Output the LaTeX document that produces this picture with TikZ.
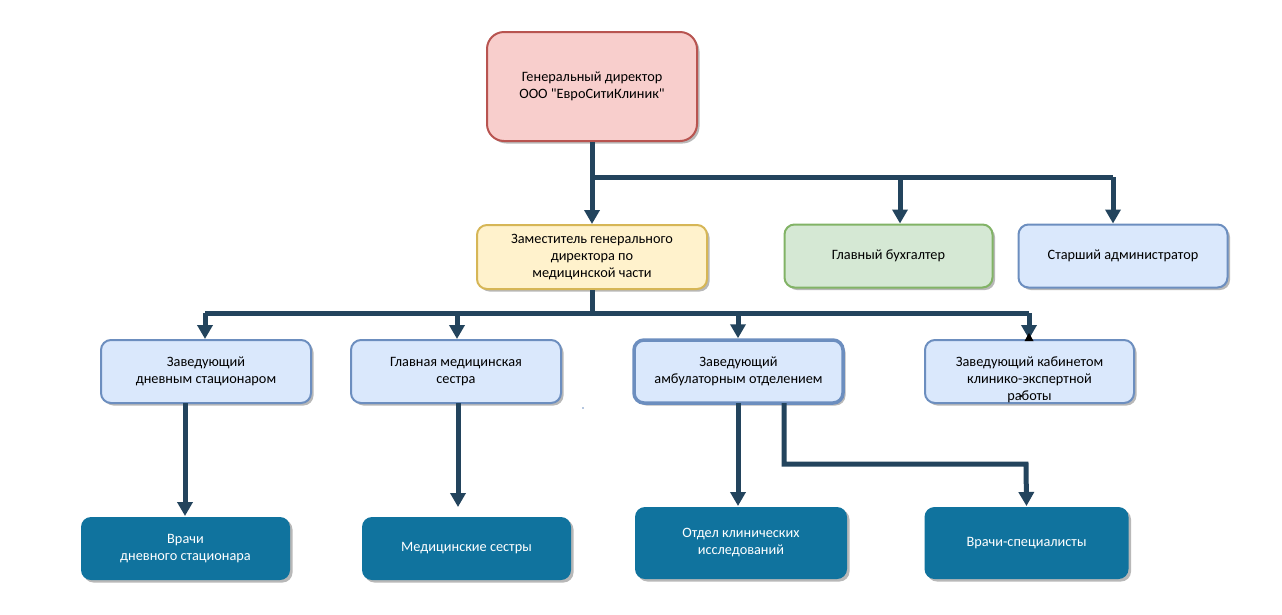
\documentclass[tikz,border=0pt]{standalone}
\usepackage{fontspec}
\setmainfont{Carlito}
\newfontfamily\qf{Carlito}
\usetikzlibrary{arrows.meta,shadows}
\definecolor{conncol}{HTML}{23445D}
\definecolor{redfill}{HTML}{F8CECC}\definecolor{redline}{HTML}{B85450}
\definecolor{yelfill}{HTML}{FFF2CC}\definecolor{yelline}{HTML}{D6B656}
\definecolor{grnfill}{HTML}{D5E8D4}\definecolor{grnline}{HTML}{82B366}
\definecolor{blufill}{HTML}{DAE8FC}\definecolor{bluline}{HTML}{6C8EBF}
\definecolor{tealfill}{HTML}{10739E}
\tikzset{
  shad/.style={drop shadow={shadow xshift=2.5pt,shadow yshift=-2.5pt,fill=black!55,opacity=0.5}},
  boxbase/.style={shad,rounded corners=10pt,line width=2pt,align=center,
    font=\fontsize{14.3}{17}\selectfont,inner sep=2pt},
  redbox/.style={boxbase,draw=redline,fill=redfill,rounded corners=17pt},
  yelbox/.style={boxbase,draw=yelline,fill=yelfill},
  grnbox/.style={boxbase,draw=grnline,fill=grnfill},
  blubox/.style={boxbase,draw=bluline,fill=blufill},
  tealbox/.style={boxbase,draw=none,fill=tealfill,text=white},
  conn/.style={draw=conncol,line width=5pt,-{Triangle[width=15pt,length=14pt]}},
  plain/.style={draw=conncol,line width=5pt},
  txt/.style={align=center,font=\fontsize{14.3}{17}\selectfont,inner sep=0pt}
}
\begin{document}
\begin{tikzpicture}[x=1pt,y=-1pt]
\useasboundingbox[fill=white] (0,0) rectangle (1282,614);
% boxes
\node[redbox,minimum width=210,minimum height=109] (gd) at (592,86.5) {Генеральный директор\\ООО {\qf"}ЕвроСитиКлиник{\qf"}};
\node[yelbox,minimum width=230,minimum height=64] (dep) at (592,257) {Заместитель генерального\\директора по\\медицинской части};
\node[grnbox,minimum width=208,minimum height=63] (buh) at (888.5,256) {Главный бухгалтер};
\node[blubox,minimum width=209,minimum height=63] (adm) at (1123,256) {Старший администратор};
\node[blubox,minimum width=210,minimum height=63] (zd) at (206,371.5) {Заведующий\\дневным стационаром};
\node[blubox,minimum width=210,minimum height=63] (gms) at (456,371.5) {Главная медицинская\\сестра};
\node[blubox,line width=3.5pt,minimum width=209,minimum height=63] (za) at (738.5,371.5) {Заведующий\\амбулаторным отделением};
\node[blubox,minimum width=209,minimum height=63] (zk) at (1029.5,371.5) {};
\node[txt] (zkt) at ([yshift=-8pt]zk.center) {Заведующий кабинетом\\клинико-экспертной\\работы};
\node[tealbox,minimum width=209,minimum height=63] (vd) at (185.5,548.5) {Врачи\\дневного стационара};
\node[tealbox,minimum width=209,minimum height=63] (ms) at (466.5,548.5) {Медицинские сестры};
\node[tealbox,minimum width=212,minimum height=72] (ok) at (741,543) {Отдел клинических\\исследований};
\node[tealbox,minimum width=204,minimum height=72] (vs) at (1026.5,543) {Врачи-специалисты};
% junction coordinates
\coordinate (j1) at (592,177);
\coordinate (b1) at (900,177);
\coordinate (a1) at (1113,177);
\coordinate (j2) at (592,313);
\coordinate (l2) at (205,313);
\coordinate (m2) at (457,313);
\coordinate (n2) at (738,313);
\coordinate (r2) at (1029,313);
\coordinate (zdo) at (185,403);
\coordinate (gmo) at (458,403);
\coordinate (gmi) at (458,507);
\coordinate (zal) at (738,403);
\coordinate (zar) at (784,403);
% connectors level 1
\draw[conn] (gd.south) -- (dep.north);
\draw[plain] (j1) -- (a1);
\draw[conn] (b1) -- (b1 |- buh.north);
\draw[conn] (a1) -- (a1 |- adm.north);
% level 2
\draw[plain] (dep.south) -- (j2);
\draw[plain] (l2) -- (r2);
\draw[conn] (l2) -- (l2 |- zd.north);
\draw[conn] (m2) -- (m2 |- gms.north);
\draw[conn] (n2) -- (n2 |- za.north);
\draw[conn] (r2) -- (r2 |- zk.north);
% level 3
\draw[conn] (zdo) -- (zdo |- vd.north);
\draw[conn] (gmo) -- (gmi);
\draw[conn] (zal) -- (zal |- ok.north);
\draw[conn] (zar) |- (1026,464) -- (vs.north);
% small artefacts
\fill[black] (1029,333) -- (1033.5,341) -- (1024.5,341) -- cycle;
\fill[black] (1021,396) circle (1.3);
\fill[bluline] (583,408) circle (0.9);
\end{tikzpicture}
\end{document}
